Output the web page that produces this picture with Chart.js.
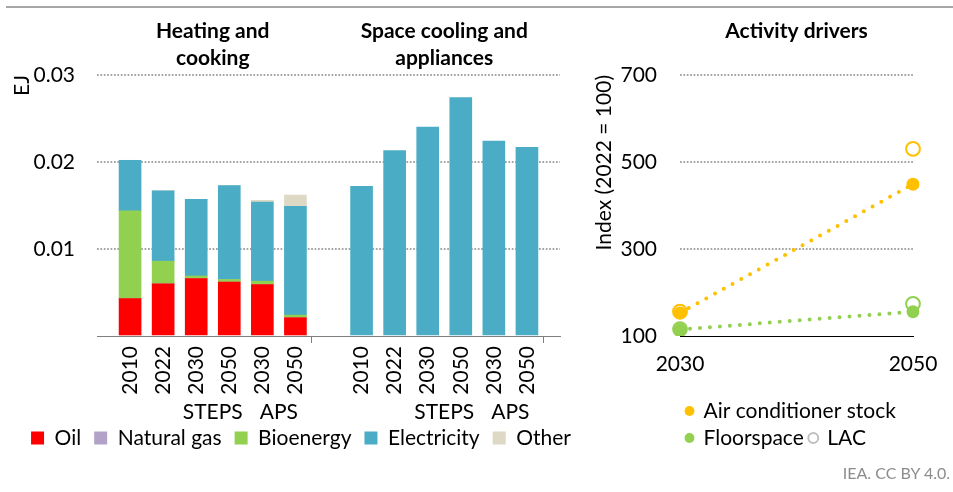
<!DOCTYPE html>
<html>
<head>
<meta charset="utf-8">
<title>Residential energy demand</title>
<script src="https://cdn.jsdelivr.net/npm/chart.js@4.4.1/dist/chart.umd.min.js"></script>
<style>
  body { margin: 0; background: #fff; }
  #wrap { position: relative; width: 953px; height: 492px; overflow: hidden; font-family: Lato, "Open Sans", sans-serif; }
  .rule { position: absolute; left: 6px; right: 0; top: 6px; border-top: 2px solid #a6a6a6; }
  #energy { position: absolute; left: 0; top: 0; }
  #drivers { position: absolute; left: 590px; top: 0; }
  .source { position: absolute; right: 3px; top: 463px; font-size: 16px; color: #8c8c8c; }
</style>
</head>
<body>
<div id="wrap">
  <div class="rule"></div>
  <canvas id="energy" width="590" height="492"></canvas>
  <canvas id="drivers" width="363" height="492"></canvas>
  <div class="source">IEA. CC BY 4.0.</div>
</div>
<script>
// final energy by end use (EJ)
const years = ['2010', '2022', '2030', '2050', '2030', '2050'];
const scenarios = ['STEPS', 'APS'];
const groupTitles = [['Heating and', 'cooking'], ['Space cooling and', 'appliances']];

const heatingOil = [0.0043, 0.0060, 0.0066, 0.0062, 0.0059, 0.0021];
const heatingGas = [0, 0, 0, 0, 0, 0];
const heatingBio = [0.0101, 0.0026, 0.0003, 0.0003, 0.0004, 0.0003];
const heatingElec = [0.0058, 0.0081, 0.0088, 0.0108, 0.0091, 0.0125];
const heatingOther = [0, 0, 0, 0, 0.0002, 0.0013];
const coolingElec = [0.0172, 0.0213, 0.0240, 0.0274, 0.0224, 0.0217];

// activity drivers, index 2022 = 100
const driverYears = ['2030', '2050'];
const acStock = [153, 449];
const floorspace = [115, 156];
const lacAcStock = [156, 530];
const lacFloorspace = [116, 174];

const FONT = 'Lato, "Open Sans", sans-serif';
Chart.defaults.font.family = FONT;
Chart.defaults.font.size = 21;
Chart.defaults.color = '#000';

const YELLOW = '#FFC000';
const GREEN = '#92D050';
const GRID = '#a3a3a3';

// empty slots at both ends and between the two groups
const slots = ['', ...years, '', ...years, ''];
const spread = (a, b) => [null, ...a, null, ...(b || a.map(() => null)), null];

const groupLabels = {
  id: 'groupLabels',
  afterDraw(chart) {
    const { ctx } = chart;
    const x = chart.scales.x;
    ctx.save();
    ctx.fillStyle = '#000';
    ctx.textAlign = 'center';
    ctx.textBaseline = 'middle';
    ctx.font = `bold 21px ${FONT}`;
    groupTitles.forEach((lines, g) => {
      const cx = (x.getPixelForValue(g * 7) + x.getPixelForValue(g * 7 + 7)) / 2;
      lines.forEach((line, i) => ctx.fillText(line, cx, 31 + i * 27));
    });
    ctx.font = `21px ${FONT}`;
    [0, 7].forEach((start) => {
      scenarios.forEach((s, k) => {
        const a = start + 3 + k * 2;
        const cx = (x.getPixelForValue(a) + x.getPixelForValue(a + 1)) / 2;
        ctx.fillText(s, cx, 412);
      });
    });
    ctx.restore();
  },
};

const barSet = (label, data, color) => ({
  label,
  data,
  backgroundColor: color,
  borderWidth: 0,
  barThickness: 22,
});

new Chart(document.getElementById('energy'), {
  type: 'bar',
  data: {
    labels: slots,
    datasets: [
      barSet('Oil', spread(heatingOil), '#FF0000'),
      barSet('Natural gas', spread(heatingGas), '#B3A2C7'),
      barSet('Bioenergy', spread(heatingBio), GREEN),
      barSet('Electricity', spread(heatingElec, coolingElec), '#4BACC6'),
      barSet('Other', spread(heatingOther), '#DDD9C4'),
    ],
  },
  options: {
    responsive: false,
    animation: false,
    events: [],
    layout: { padding: { left: 12, right: 0, top: 75, bottom: 33.5 } },
    plugins: {
      legend: {
        position: 'bottom',
        labels: { boxWidth: 13, boxHeight: 13, padding: 13 },
      },
      tooltip: { enabled: false },
    },
    scales: {
      x: {
        stacked: true,
        offset: false,
        grid: {
          drawOnChartArea: false,
          drawTicks: true,
          tickLength: 7,
          tickColor: (ctx) => (ctx.index % 7 === 0 ? '#7f7f7f' : 'rgba(0,0,0,0)'),
        },
        border: { color: '#7f7f7f', width: 1 },
        ticks: { autoSkip: false, minRotation: 90, maxRotation: 90, padding: 3 },
        afterFit: (s) => {
          s.height = 78.5;
          s.paddingRight = 30;
        },
      },
      y: {
        stacked: true,
        min: 0,
        max: 0.03,
        ticks: {
          stepSize: 0.01,
          padding: 22,
          callback: (v) => (v === 0 ? '' : v.toFixed(2)),
        },
        grid: {
          drawTicks: false,
          lineWidth: 2,
          color: (ctx) => (ctx.tick && ctx.tick.value === 0 ? 'rgba(0,0,0,0)' : GRID),
        },
        border: { display: false, dash: [1.7, 1.7] },
        title: { display: true, text: 'EJ', align: 'end', padding: { top: -2, bottom: 0 } },
        afterFit: (s) => { s.width = 85; },
      },
    },
  },
  plugins: [groupLabels],
});

const panelTitle = {
  id: 'panelTitle',
  afterDraw(chart) {
    const { ctx, chartArea } = chart;
    ctx.save();
    ctx.fillStyle = '#000';
    ctx.textAlign = 'center';
    ctx.textBaseline = 'middle';
    ctx.font = `bold 21px ${FONT}`;
    ctx.fillText('Activity drivers', (chartArea.left + chartArea.right) / 2, 31);
    ctx.restore();
  },
};

const lacPoints = [
  ...driverYears.map((x, i) => ({ x, y: lacAcStock[i] })),
  ...driverYears.map((x, i) => ({ x, y: lacFloorspace[i] })),
];

const driverSet = (label, data, color) => ({
  label,
  data,
  borderColor: color,
  backgroundColor: color,
  borderWidth: 4,
  borderDash: [0, 10],
  borderCapStyle: 'round',
  pointRadius: 6.5,
  pointBorderWidth: 0,
  pointBackgroundColor: color,
  order: 1,
});

new Chart(document.getElementById('drivers'), {
  type: 'line',
  data: {
    labels: driverYears,
    datasets: [
      driverSet('Air conditioner stock', acStock, YELLOW),
      driverSet('Floorspace', floorspace, GREEN),
      {
        // open rings sit on top of the filled markers
        label: 'LAC',
        data: lacPoints,
        showLine: false,
        pointRadius: 6.9,
        pointBorderWidth: 2,
        pointBackgroundColor: 'rgba(0,0,0,0)',
        pointBorderColor: [YELLOW, YELLOW, GREEN, GREEN],
        borderColor: '#bfbfbf',
        backgroundColor: 'rgba(0,0,0,0)',
        order: 0,
      },
    ],
  },
  options: {
    responsive: false,
    animation: false,
    events: [],
    layout: { padding: { left: 0, right: 40, top: 75, bottom: 33.5 } },
    plugins: {
      legend: {
        position: 'bottom',
        align: 'start',
        fullSize: false,
        labels: {
          usePointStyle: true,
          pointStyle: 'circle',
          boxWidth: 7,
          boxHeight: 7,
          padding: 6,
          sort: (a, b) => a.datasetIndex - b.datasetIndex,
          generateLabels(chart) {
            const items = Chart.defaults.plugins.legend.labels.generateLabels(chart);
            items.forEach((it) => {
              if (it.text === 'LAC') {
                it.strokeStyle = '#bfbfbf';
                it.fillStyle = 'rgba(0,0,0,0)';
                it.lineWidth = 2;
              } else {
                it.lineWidth = 0;
                it.lineDash = [];
              }
            });
            return items;
          },
        },
      },
      tooltip: { enabled: false },
    },
    scales: {
      x: {
        offset: false,
        grid: { display: false },
        border: { color: '#000', width: 1 },
        ticks: { padding: 8 },
        afterFit: (s) => { s.height = 58.5; },
      },
      y: {
        min: 100,
        max: 700,
        ticks: { stepSize: 200, padding: 23 },
        grid: {
          drawTicks: false,
          lineWidth: 2,
          color: (ctx) => (ctx.tick && ctx.tick.value === 100 ? 'rgba(0,0,0,0)' : GRID),
        },
        border: { display: false, dash: [1.7, 1.7] },
        title: { display: true, text: 'Index (2022 = 100)', align: 'end', padding: { top: 2, bottom: 0 } },
        afterFit: (s) => { s.width = 90; },
      },
    },
  },
  plugins: [panelTitle],
});
</script>
</body>
</html>
